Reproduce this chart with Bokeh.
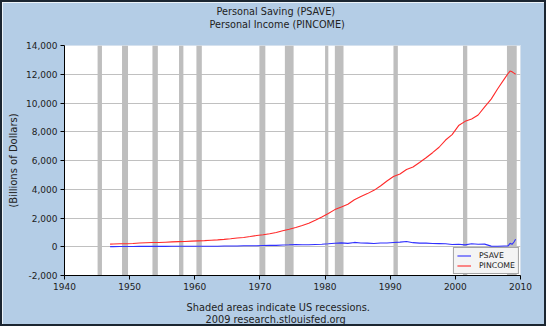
from bokeh.plotting import figure
from bokeh.models import (Range1d, NumeralTickFormatter, FixedTicker,
                          Legend, LegendItem, Title)
from bokeh.embed import file_html
from bokeh.resources import INLINE

annual_years = list(range(1947, 2008))
dates = [1947.0] + [y + 0.5 for y in annual_years] + [2008.1, 2008.4, 2008.7, 2009.0, 2009.25]

pincome = [185,
           191, 210, 207, 229, 258, 275, 292, 294, 316, 338,
           356, 367, 392, 411, 429, 457, 480, 514, 556, 604,
           648, 713, 779, 838, 903, 992, 1111, 1220, 1336, 1474,
           1633, 1837, 2062, 2307, 2584, 2767, 2953, 3267, 3492, 3696,
           3924, 4229, 4570, 4884, 5060, 5373, 5550, 5865, 6191, 6543,
           6922, 7425, 7803, 8430, 8724, 8882, 9164, 9727, 10270, 10994,
           11663,
           12050, 12220, 12170, 12080, 12000]

psave = [10,
         12, 22, 14, 22, 27, 28, 28, 26, 24, 31,
         33, 35, 33, 30, 37, 39, 38, 49, 53, 56,
         66, 67, 67, 84, 97, 93, 126, 138, 153, 141,
         136, 161, 179, 210, 244, 270, 233, 301, 264, 249,
         224, 262, 265, 299, 324, 366, 284, 249, 251, 225,
         219, 210, 159, 169, 133, 206, 176, 181, 45, 39,
         57,
         60, 240, 170, 330, 520]

rec_start = [1945.08, 1948.83, 1953.50, 1957.58, 1960.25, 1969.92,
             1973.83, 1980.00, 1981.50, 1990.50, 2001.17, 2007.92]
rec_end = [1945.75, 1949.75, 1954.33, 1958.25, 1961.08, 1970.83,
           1975.17, 1980.50, 1982.83, 1991.17, 2001.83, 2009.42]

x_ticks = [1940, 1950, 1960, 1970, 1980, 1990, 2000, 2010]
y_ticks = [-2000, 0, 2000, 4000, 6000, 8000, 10000, 12000, 14000]
x_min, x_max = 1940, 2010
y_min, y_max = -2000, 14000

title_lines = ["Personal Saving (PSAVE)", "Personal Income (PINCOME)"]
foot_lines = ["Shaded areas indicate US recessions.", "2009 research.stlouisfed.org"]
series_names = ["PSAVE", "PINCOME"]
series_colors = ["#3030FF", "#FF2A2A"]

FONT = "DejaVu Sans"
BG = "#B4CDE6"
TXT = "#222222"

p = figure(width=546, height=326, output_backend="svg", toolbar_location=None,
           x_range=Range1d(x_min, x_max), y_range=Range1d(y_min, y_max),
           min_border_left=62, min_border_right=28, min_border_top=43,
           min_border_bottom=53, title=None)
p.styles = {"border": "2px solid #1B2631"}
p.background_fill_color = "white"
p.border_fill_color = BG
p.outline_line_color = "#D5E1EE"

p.quad(left=rec_start, right=rec_end, bottom=y_min, top=y_max,
       fill_color="#BEBEBE", line_color=None)

r_save = p.line(dates, psave, line_color=series_colors[0], line_width=1.1)
r_inc = p.line(dates, pincome, line_color=series_colors[1], line_width=1.1)

p.xgrid.visible = False
p.ygrid.grid_line_color = "#C0C0C0"

p.xaxis.ticker = FixedTicker(ticks=x_ticks)
p.yaxis.ticker = FixedTicker(ticks=y_ticks)
p.yaxis.formatter = NumeralTickFormatter(format="0,0")
for ax in (p.xaxis, p.yaxis):
    ax.axis_line_color = "black"
    ax.major_tick_line_color = "black"
    ax.minor_tick_line_color = None
    ax.major_tick_out = 4
    ax.major_tick_in = 0
    ax.major_label_text_font = FONT
    ax.major_label_text_font_size = "9px"
    ax.major_label_text_color = TXT
    ax.major_label_standoff = 3
p.yaxis.axis_label = "(Billions of Dollars)"
p.yaxis.axis_label_text_font = FONT
p.yaxis.axis_label_text_font_size = "10px"
p.yaxis.axis_label_text_font_style = "normal"
p.yaxis.axis_label_text_color = TXT
p.yaxis.axis_label_standoff = 4


def text_title(txt, size, offset, standoff=0):
    return Title(text=txt, align="left", offset=offset, text_font=FONT,
                 text_font_size=size, text_font_style="normal",
                 text_color=TXT, standoff=standoff)


# above: spacer next to the frame, then the two title lines
p.add_layout(text_title(" ", "1px", 0, standoff=13), "above")
p.add_layout(text_title(title_lines[1], "9.7px", 145), "above")
p.add_layout(text_title(title_lines[0], "9.7px", 152), "above")

# below: spacer after the axis, then the two footer lines
p.add_layout(text_title(" ", "1px", 0, standoff=4), "below")
p.add_layout(text_title(foot_lines[0], "9.8px", 122), "below")
p.add_layout(text_title(foot_lines[1], "9.8px", 141, standoff=-2), "below")

# legend inside the frame, bottom right corner
legend = Legend(items=[LegendItem(label=series_names[0], renderers=[r_save]),
                       LegendItem(label=series_names[1], renderers=[r_inc])],
                location="bottom_right", margin=1)
legend.label_text_font = FONT
legend.label_text_font_size = "7.8px"
legend.label_text_color = TXT
legend.glyph_width = 14
legend.glyph_height = 9
legend.label_height = 9
legend.label_standoff = 8
legend.spacing = 1
legend.padding = 3
legend.background_fill_color = "#F4F4F4"
legend.background_fill_alpha = 1
legend.border_line_color = "#555555"
p.add_layout(legend)

open("out.html", "w").write(file_html(p, INLINE))
